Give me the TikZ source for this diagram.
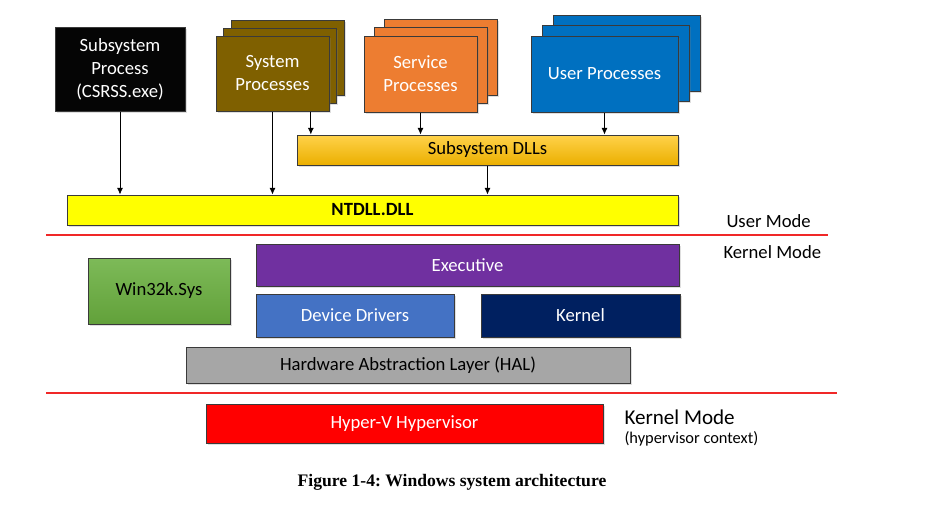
\documentclass[tikz,border=0pt]{standalone}
\usepackage{fontspec}
\setmainfont{Carlito}
\newfontfamily\capfont{Liberation Serif}
\usetikzlibrary{arrows.meta,positioning,shadows}
\definecolor{edge}{HTML}{3A3A3A}
\definecolor{sepred}{HTML}{F02828}
\definecolor{csrssfill}{HTML}{050505}
\definecolor{sysfill}{HTML}{7F6000}
\definecolor{svcfill}{HTML}{ED7D31}
\definecolor{userfill}{HTML}{0070C0}
\definecolor{dllstop}{HTML}{FFD24A}
\definecolor{dllsbot}{HTML}{EBAF00}
\definecolor{ntdllfill}{HTML}{FFFF00}
\definecolor{execfill}{HTML}{7030A0}
\definecolor{wintop}{HTML}{7DBA58}
\definecolor{winbot}{HTML}{62A13A}
\definecolor{drvfill}{HTML}{4472C4}
\definecolor{kernfill}{HTML}{002060}
\definecolor{halfill}{HTML}{A6A6A6}
\definecolor{hvfill}{HTML}{FF0000}

\begin{document}
\frenchspacing
\begin{tikzpicture}[
		x=0.75pt, y=-0.75pt,
		line width=0.75pt,
		node distance=19.5pt,
		block/.style={draw=edge, inner sep=0pt, align=center, text=white,
			font=\fontsize{14}{17.25}\selectfont,
			drop shadow={opacity=0.25, shadow xshift=1.2pt, shadow yshift=-1.2pt}},
		box/.style 2 args={minimum width=#1*0.75pt, minimum height=#2*0.75pt},
		arr/.style={-{Latex[length=5pt,width=4.5pt]}, line width=0.6pt},
		sep/.style={draw=sepred, line width=1.1pt},
		mode/.style={anchor=west, inner sep=0pt, font=\fontsize{14}{17}\selectfont},
	]
		\useasboundingbox (0,0) rectangle (926,512);

		\node (csrss) [block, fill=csrssfill, box={130}{84}] at (120,69) {Subsystem\\Process\\(CSRSS.exe)};

		\foreach \k in {2,1}
			\node (sys \k) [block, fill=sysfill, box={113}{75}] at (272.5+7.5*\k,73.5-8*\k) {};
		\node (sys) [block, fill=sysfill, box={113}{75}] at (272.5,73.5) {System\\Processes};

		\foreach \k in {2,1}
			\node (svc \k) [block, fill=svcfill, box={113}{76}] at (420.5+10*\k,74-8.5*\k) {};
		\node (svc) [block, fill=svcfill, box={113}{76}] at (420.5,74) {Service\\Processes};

		\foreach \k in {2,1}
			\node (user \k) [block, fill=userfill, box={147}{76}] at (604.5+11*\k,74-10.5*\k) {};
		\node (user) [block, fill=userfill, box={147}{76}] at (604.5,74) {User Processes};

		\node (dlls) [block, top color=dllstop, bottom color=dllsbot, text=black, box={381}{30}] at (487.5,150) {Subsystem DLLs};
		\node (ntdll) [block, fill=ntdllfill, text=black, font=\fontsize{14}{17}\selectfont\bfseries, box={611}{30}] at (372.5,210) {NTDLL.DLL};

		\coordinate (sys tap) at ([xshift=-14pt]sys.south east);
		\draw[arr] (csrss) -- (csrss |- ntdll.north);
		\draw[arr] (sys) -- (sys |- ntdll.north);
		\draw[arr] (sys tap) -- (sys tap |- dlls.north);
		\draw[arr] (svc) -- (svc |- dlls.north);
		\draw[arr] (user) -- (user |- dlls.north);
		\draw[arr] (dlls) -- (dlls |- ntdll.north);

		\coordinate (top left) at (46,235);
		\coordinate (top right) at (828,235);
		\draw[sep] (top left) -- (top right);
		\node (user mode) [mode] at (726,221) {User Mode};
		\node (kernel mode) [mode] at (723,252) {Kernel Mode};

		\node (exec) [block, fill=execfill, box={423}{42}] at (467.5,265) {Executive};
		\node (win32k) [block, top color=wintop, bottom color=winbot, text=black, box={142}{66}] at (159,291) {Win32k.Sys};
		\node (drivers) [block, fill=drvfill, box={198}{43}] at (355,315.5) {Device Drivers};
		\node (kernel) [block, fill=kernfill, box={199}{43}, right=of drivers] {Kernel};
		\node (hal) [block, fill=halfill, text=black, box={444}{36}] at (408,365) {Hardware Abstraction Layer (HAL)};

		\coordinate (low left) at (46,393);
		\coordinate (low right) at (837,393);
		\draw[sep] (low left) -- (low right);

		\node (hv) [block, fill=hvfill, box={397}{39}] at (404.5,423.5) {Hyper-V Hypervisor};
		\node (hv mode) [mode, font=\fontsize{15.8}{19}\selectfont] at (624,417) {Kernel Mode};
		\node (hv context) [mode, font=\fontsize{12.3}{15}\selectfont] at (624,439) {(hypervisor context)};

		\node (caption) at (452,482) {\capfont\bfseries\fontsize{13.2}{16}\selectfont Figure 1-4: Windows system architecture};
	\end{tikzpicture}
\end{document}
